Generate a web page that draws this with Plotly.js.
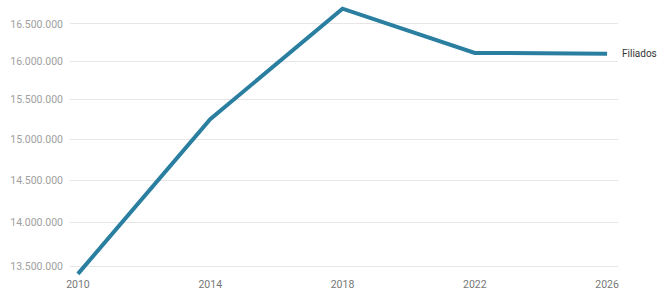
<!DOCTYPE html>
<html>
<head>
<meta charset="utf-8">
<script src="https://cdn.plot.ly/plotly-3.0.1.min.js"></script>
<style>html,body{margin:0;padding:0;background:#fff;}#chart{width:660px;height:299px;}</style>
</head>
<body>
<div id="chart"></div>
<script>
const years = [2010, 2014, 2018, 2022, 2026];
const filiados = [13420000, 15250000, 16710000, 16110000, 16100000];
const seriesName = "Filiados";
const yTickVals = [13500000, 14000000, 14500000, 15000000, 15500000, 16000000, 16500000];
const yTickText = ["13.500.000", "14.000.000", "14.500.000", "15.000.000", "15.500.000", "16.000.000", "16.500.000"];
const xTickVals = [2010, 2014, 2018, 2022, 2026];
const xTickText = ["2010", "2014", "2018", "2022", "2026"];

const trace = {
  x: years, y: filiados, type: "scatter", mode: "lines", name: seriesName,
  line: {color: "#2a7fa0", width: 4}, cliponaxis: false, hoverinfo: "skip"
};

const layout = {
  width: 660, height: 299,
  margin: {l: 70, r: 42, t: 2, b: 23, pad: 0},
  paper_bgcolor: "#fff", plot_bgcolor: "#fff",
  showlegend: false,
  font: {family: "Roboto, sans-serif", size: 10, color: "#999"},
  xaxis: {
    range: [2009.76, 2026.33], tickvals: xTickVals, ticktext: xTickText,
    showgrid: false, zeroline: false, showline: false, ticks: "",
    tickfont: {size: 10.5, color: "#777"}, fixedrange: true
  },
  yaxis: {
    type: "log", range: [7.12699, 7.22537], tickvals: yTickVals, ticktext: yTickText,
    showgrid: true, gridcolor: "#e6e6e6", gridwidth: 1, zeroline: false, showline: false,
    ticks: "", ticklabelstandoff: 6, tickfont: {size: 10.5, color: "#a0a0a0"}, fixedrange: true
  },
  annotations: [{
    x: years[years.length - 1], y: Math.log10(filiados[filiados.length - 1]),
    xref: "x", yref: "y", text: seriesName, showarrow: false,
    xanchor: "left", yanchor: "middle", xshift: 13,
    font: {family: "Roboto, sans-serif", size: 10, color: "#333"}
  }]
};

Plotly.newPlot("chart", [trace], layout, {staticPlot: true, displayModeBar: false});
</script>
</body>
</html>
